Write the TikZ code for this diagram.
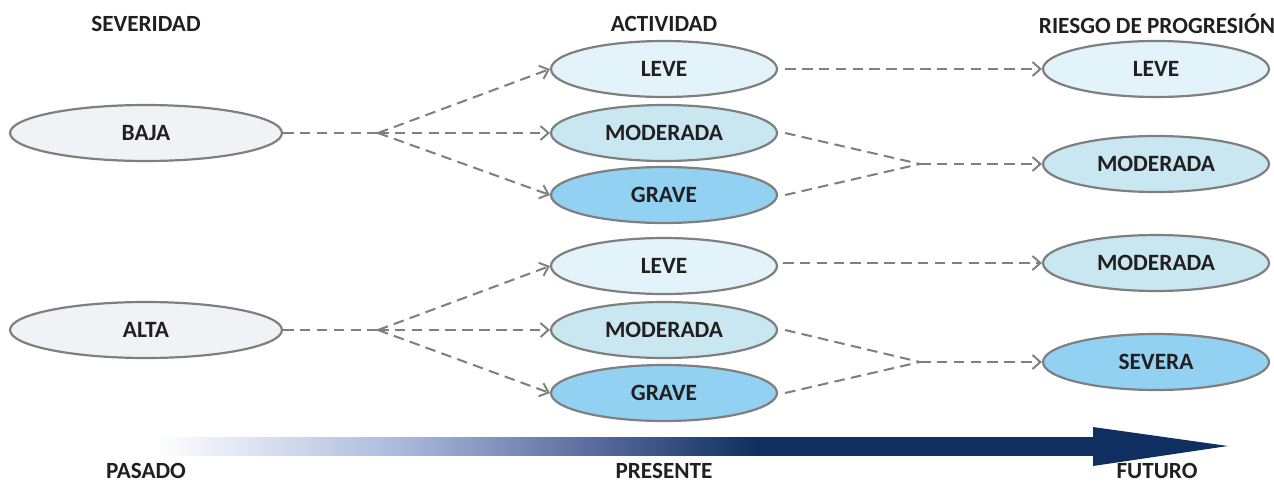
\documentclass[tikz,border=0pt]{standalone}
\usepackage{fontspec}
\setmainfont{Carlito}
\usetikzlibrary{shapes.geometric,arrows.meta}
\definecolor{edge}{HTML}{7F7F7F}
\definecolor{cgray}{HTML}{EFF3F5}
\definecolor{cleve}{HTML}{E3F3FA}
\definecolor{cmod}{HTML}{C9E7F0}
\definecolor{cgrave}{HTML}{92D1F2}
\definecolor{navy}{HTML}{0E2F5F}
\definecolor{gradA}{HTML}{AABADD}
\definecolor{gradB}{HTML}{5B6E9F}
\definecolor{txt}{HTML}{231F20}
\pgfdeclarehorizontalshading{timegrad}{100bp}{color(0bp)=(white); color(25bp)=(white); color(38bp)=(gradA); color(48bp)=(gradB); color(57bp)=(navy); color(100bp)=(navy)}
\tikzset{
  x=0.02cm, y=-0.02cm,
  oval/.style={ellipse, draw=edge, line width=1.25pt, inner sep=0pt,
     minimum width=4.52cm, minimum height=1.12cm,
     font=\fontsize{13.3}{15}\bfseries, text=txt},
  bigoval/.style={oval, minimum width=5.44cm},
  heading/.style={font=\fontsize{13.2}{15}\bfseries, text=txt, inner sep=0pt},
  link/.style={draw=edge, line width=1.15pt, dash pattern=on 6pt off 3.6pt},
  arr/.style={link, -{Straight Barb[length=1.6mm,width=2.8mm,line width=1.1pt]}},
}
\begin{document}
\begin{tikzpicture}
\useasboundingbox (0,0) rectangle (1274,484);
% headings
\node[heading] (hsev) at (146,24) {SEVERIDAD};
\node[heading] (hact) at (664,24) {ACTIVIDAD};
\node[heading] (hrie) at (1157,24) {RIESGO DE PROGRESIÓN};
% left column
\node[bigoval, fill=cgray] (baja) at (146,133) {BAJA};
\node[bigoval, fill=cgray] (alta) at (146,330) {ALTA};
% middle column
\node[oval, fill=cleve]  (l1) at (664,69)  {LEVE};
\node[oval, fill=cmod]   (m1) at (664,133) {MODERADA};
\node[oval, fill=cgrave] (g1) at (664,195) {GRAVE};
\node[oval, fill=cleve]  (l2) at (664,266) {LEVE};
\node[oval, fill=cmod]   (m2) at (664,330) {MODERADA};
\node[oval, fill=cgrave] (g2) at (664,393) {GRAVE};
% right column
\node[oval, fill=cleve]  (r1) at (1156,69)  {LEVE};
\node[oval, fill=cmod]   (r2) at (1156,164) {MODERADA};
\node[oval, fill=cmod]   (r3) at (1156,263) {MODERADA};
\node[oval, fill=cgrave] (r4) at (1156,362) {SEVERA};
% branch / merge points
\coordinate (b1) at (378,133);
\coordinate (b2) at (378,330);
\coordinate (j1) at (920,164);
\coordinate (j2) at (920,362);
\coordinate (q2) at (783,263);
% connectors
\draw[link] (baja.east) -- (b1);
\draw[arr] (b1) -- (l1.west);
\draw[arr] (b1) -- (m1.west);
\draw[arr] (b1) -- (g1.west);
\draw[link] (alta.east) -- (b2);
\draw[arr] (b2) -- (l2.west);
\draw[arr] (b2) -- (m2.west);
\draw[arr] (b2) -- (g2.west);
\draw[arr] ([xshift=4pt]l1.east) -- (r1.west);
\draw[link] ([xshift=4pt]m1.east) -- (j1);
\draw[link] ([xshift=4pt]g1.east) -- (j1);
\draw[arr] (j1) -- (r2.west);
\draw[arr] (q2) -- (r3.west);
\draw[link] ([xshift=4pt]m2.east) -- (j2);
\draw[link] ([xshift=4pt]g2.east) -- (j2);
\draw[arr] (j2) -- (r4.west);
% time arrow
\coordinate (te) at (1228,446);
\shade[shading=timegrad] (155,437) rectangle (1095,455);
\fill[navy] (1093,437) -- (1093,427) -- (te) -- (1093,466) -- (1093,455) -- cycle;
% time labels
\node[heading] (past) at (146,471) {PASADO};
\node[heading] (pres) at (664,471) {PRESENTE};
\node[heading] (fut) at (1157,471) {FUTURO};
\end{tikzpicture}
\end{document}
